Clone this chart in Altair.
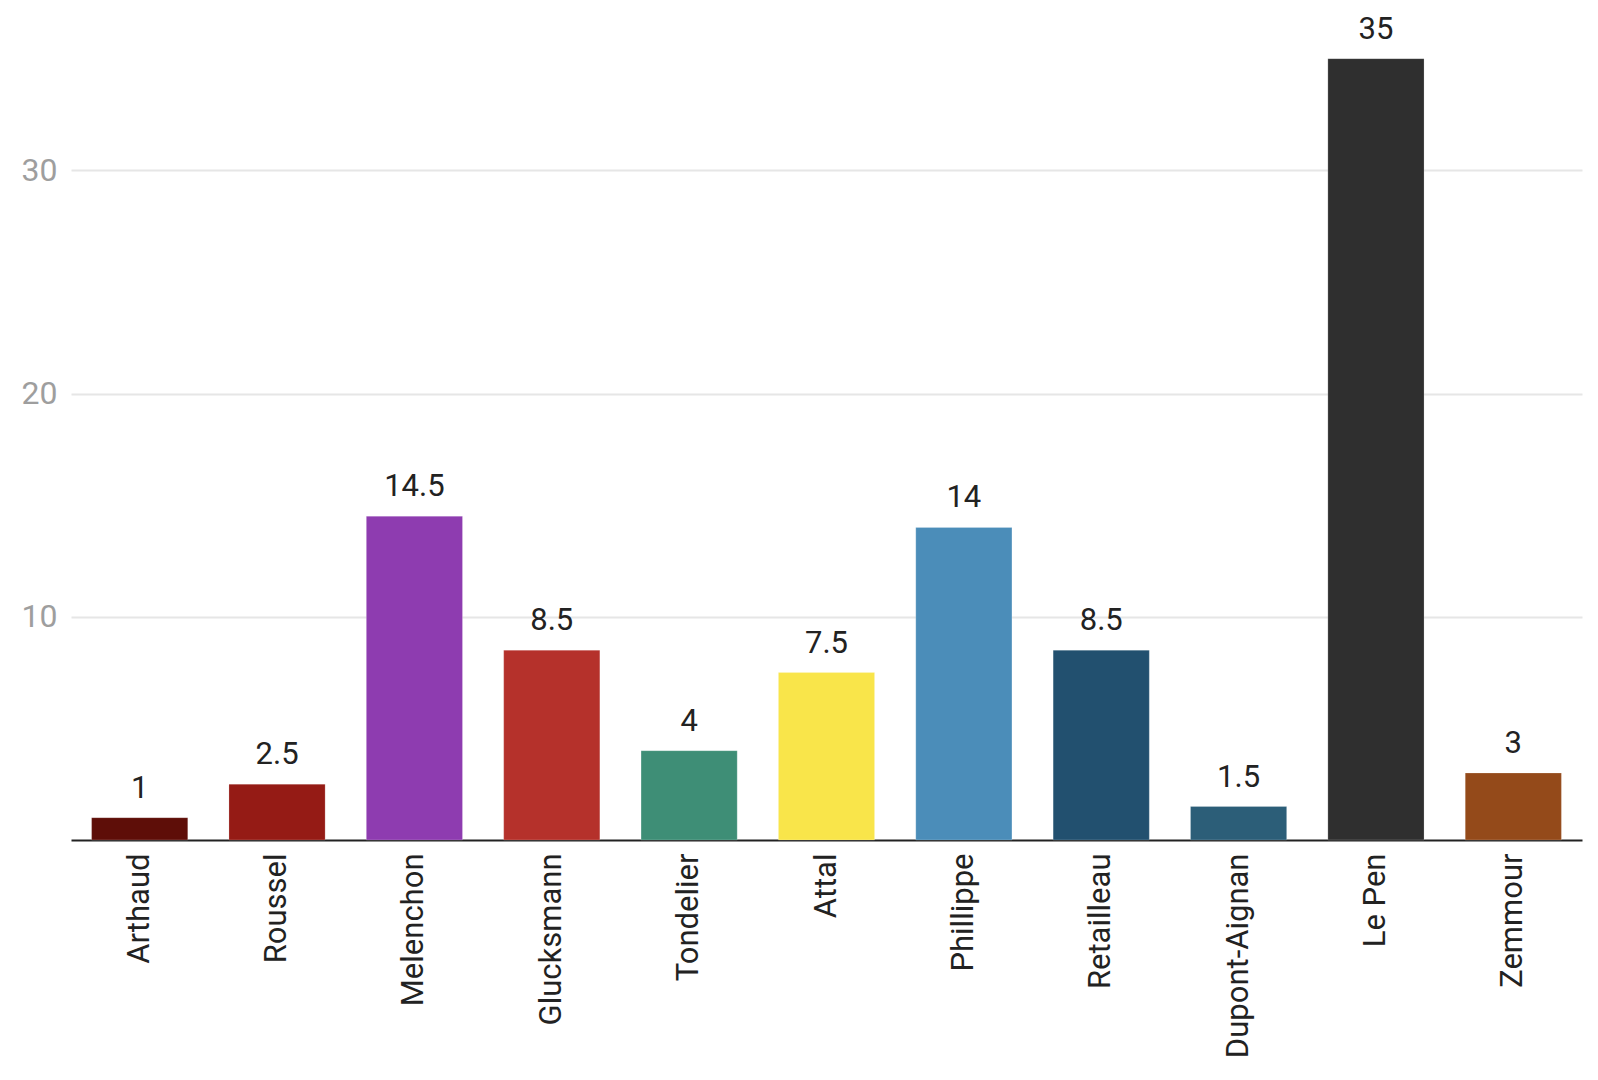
import altair as alt
import pandas as pd

candidates = ["Arthaud", "Roussel", "Melenchon", "Glucksmann", "Tondelier", "Attal",
              "Phillippe", "Retailleau", "Dupont-Aignan", "Le Pen", "Zemmour"]
values = [1, 2.5, 14.5, 8.5, 4, 7.5, 14, 8.5, 1.5, 35, 3]
colors = ["#5e0e08", "#951b15", "#8e3cb0", "#b5312b", "#3e8e76", "#f9e54a",
          "#4b8db9", "#22506f", "#2c5e78", "#2f2f2f", "#944a1a"]
y_ticks = [10, 20, 30]

df = pd.DataFrame({"candidate": candidates, "value": values, "color": colors})

FONT = "Roboto"

x = alt.X("candidate:N", sort=candidates, title=None,
          scale=alt.Scale(paddingInner=0.3, paddingOuter=0.15),
          axis=alt.Axis(labelAngle=-90, labelAlign="right", labelBaseline="middle",
                        labelFontSize=31, labelColor="#222222", labelFont=FONT,
                        labelPadding=13, labelLimit=0, ticks=False,
                        domainColor="#222222", domainWidth=2, grid=False))
y = alt.Y("value:Q", title=None,
          scale=alt.Scale(domain=[0, 37], nice=False),
          axis=alt.Axis(values=y_ticks, labelFontSize=32, labelColor="#9e9e9e",
                        labelFont=FONT, labelPadding=14, ticks=False, domain=False,
                        gridColor="#e6e6e6", gridWidth=2))

bars = alt.Chart(df).mark_bar(stroke="white", strokeWidth=0.5, strokeOpacity=0.4).encode(
    x=x, y=y, color=alt.Color("color:N", scale=None))

labels = alt.Chart(df).mark_text(baseline="bottom", dy=-13, fontSize=31,
                                 font=FONT, color="#222222").encode(
    x=alt.X("candidate:N", sort=candidates),
    y="value:Q",
    text=alt.Text("value:Q", format="~g"))

chart = (bars + labels).properties(
    width=1511, height=826,
    autosize=alt.AutoSizeParams(type="none"),
    padding={"left": 63, "top": 6, "right": 8, "bottom": 228},
).configure_view(stroke=None)

chart.save("out.html", embed_options={"renderer": "svg", "actions": False})
